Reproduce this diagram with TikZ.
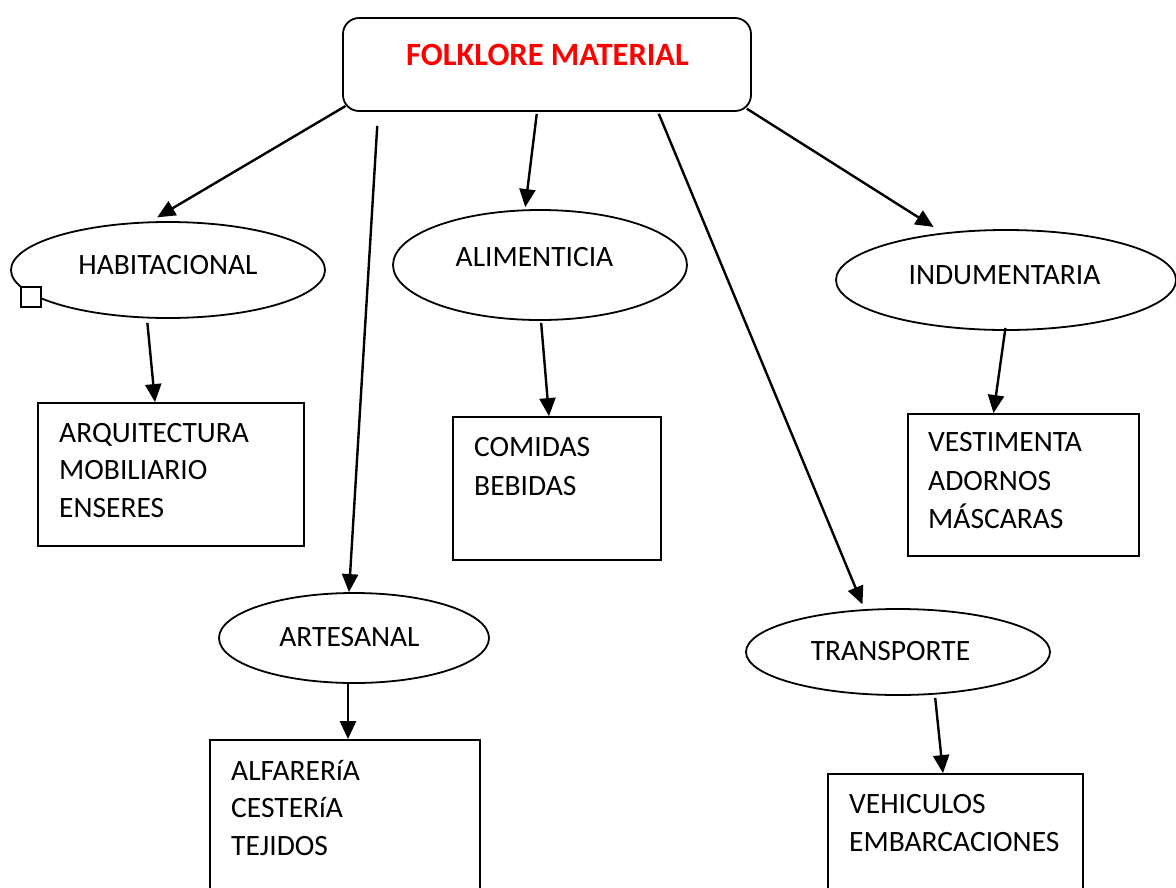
\documentclass[tikz,border=0pt]{standalone}
\usepackage{fontspec}
\setmainfont{Carlito}
\usetikzlibrary{arrows.meta,shapes.geometric}
\begin{document}
\begin{tikzpicture}[x=1pt,y=-1pt,
  every node/.style={font=\fontsize{29.5}{37}\selectfont},
  ell/.style={draw,line width=1.8pt,ellipse,inner sep=0pt},
  box/.style={draw,line width=1.8pt,rectangle,inner sep=0pt},
  lbl/.style={inner sep=0pt},
  txt/.style={anchor=base west,inner sep=0pt},
  arr/.style={line width=2.4pt,-{Triangle[length=18pt,width=16pt]}}]
\useasboundingbox (0,0) rectangle (1176,887);

% top
\node[draw,line width=1.8pt,rounded corners=16pt,minimum width=408pt,minimum height=93pt,inner sep=0pt] (top) at (547,64.5) {};
\node[lbl,text=red,font=\fontsize{32.5}{40}\selectfont\bfseries] (title) at (547.5,55) {FOLKLORE MATERIAL};

% ellipses
\node[ell,minimum width=314pt,minimum height=96pt] (hab) at (168,270) {};
\node[lbl] (habt) at (168,265) {HABITACIONAL};
\node[draw,fill=white,line width=1.4pt,minimum size=20pt,inner sep=0pt] (sq) at (31,297) {};

\node[ell,minimum width=294pt,minimum height=110pt] (ali) at (540,265) {};
\node[lbl] (alit) at (534.5,257) {ALIMENTICIA};

\node[ell,minimum width=340pt,minimum height=100pt] (ind) at (1006,280) {};
\node[lbl] (indt) at (1004.5,275) {INDUMENTARIA};

\node[ell,minimum width=270pt,minimum height=90pt] (art) at (354,638) {};
\node[lbl] (artt) at (349.5,637) {ARTESANAL};

\node[ell,minimum width=304pt,minimum height=86pt] (trans) at (898,652) {};
\node[lbl] (transt) at (890.5,651) {TRANSPORTE};

% boxes
\node[box,minimum width=266pt,minimum height=143pt] (arq) at (171,474.5) {};
\node[txt] (arq1) at (59,442) {ARQUITECTURA};
\node[txt] (arq2) at (59,479) {MOBILIARIO};
\node[txt] (arq3) at (59,517) {ENSERES};

\node[box,minimum width=208pt,minimum height=143pt] (com) at (557,488.5) {};
\node[txt] (com1) at (474,456) {COMIDAS};
\node[txt] (com2) at (474,495) {BEBIDAS};

\node[box,minimum width=231pt,minimum height=142pt] (vest) at (1023.5,485) {};
\node[txt] (vest1) at (928,451) {VESTIMENTA};
\node[txt] (vest2) at (928,490) {ADORNOS};
\node[txt] (vest3) at (928,528) {MÁSCARAS};

\node[box,minimum width=270pt,minimum height=180pt] (alf) at (345,830) {};
\node[txt] (alf1) at (231,780) {ALFARERíA};
\node[txt] (alf2) at (231,817) {CESTERíA};
\node[txt] (alf3) at (231,855) {TEJIDOS};

\node[box,minimum width=255pt,minimum height=160pt] (veh) at (955.5,854) {};
\node[txt] (veh1) at (849,813) {VEHICULOS};
\node[txt] (veh2) at (849,851) {EMBARCACIONES};

% arrows
\draw[arr,shorten <=-4pt,shorten >=8pt] (top.192) -- (hab.110);
\draw[arr,shorten <=14pt] ([xshift=36pt]top.south west) -- ([xshift=-5pt]art.north);
\draw[arr,shorten <=2pt,shorten >=2pt] ([xshift=-10pt]top.south) -- ([xshift=-15pt]ali.north);
\draw[arr,shorten <=2pt,shorten >=4pt] ([xshift=111pt]top.south) -- ([xshift=-34pt]trans.north);
\draw[arr,shorten <=-6pt,shorten >=4pt] (top.south east) -- ([xshift=-69pt]ind.north);
\draw[arr,shorten <=4pt] ([xshift=-21pt]hab.south) -- ([xshift=-16pt]arq.north);
\draw[arr,shorten <=2pt] ([xshift=1pt]ali.south) -- ([xshift=-8pt]com.north);
\draw[arr,shorten <=-3pt] ([xshift=-1pt]ind.south) -- ([xshift=-30pt]vest.north);
\draw[arr] ([xshift=-6pt]art.south) -- ([xshift=3pt]alf.north);
\draw[arr,shorten <=2pt] ([xshift=37pt]trans.south) -- ([xshift=-12.5pt]veh.north);
\end{tikzpicture}
\end{document}
